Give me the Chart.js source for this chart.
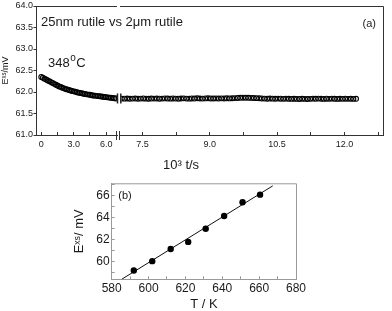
<!DOCTYPE html>
<html><head><meta charset="utf-8">
<script src="https://cdn.jsdelivr.net/npm/chart.js@4.4.1/dist/chart.umd.min.js"></script>
<style>
html,body{margin:0;padding:0;background:#fff;}
#wrap{position:relative;width:392px;height:311px;overflow:hidden;background:#fff;}
canvas{position:absolute;}
</style></head><body>
<div id="wrap">
<canvas id="ca" width="392" height="170" style="left:0;top:0;width:392px;height:170px"></canvas>
<canvas id="cb" width="282" height="170" style="left:110px;top:0;width:282px;height:170px"></canvas>
<canvas id="cc" width="392" height="141" style="left:0;top:170px;width:392px;height:141px"></canvas>
</div>
<script>
// ---- panel (a): early segment (10^3 t/s, mV)
const tEarly = [0,0.15,0.3,0.45,0.6,0.75,0.9,1.05,1.2,1.35,1.5,1.65,1.8,1.95,2.1,2.25,2.4,2.55,2.7,2.85,3.0,3.15,3.3,3.45,3.6,3.75,3.9,4.05,4.2,4.35,4.5,4.65,4.8,4.95,5.1,5.25,5.4,5.55,5.7,5.85,6.0,6.15,6.3,6.45,6.6,6.75,6.9];
const eEarly = [62.35,62.33,62.31,62.29,62.27,62.25,62.23,62.21,62.19,62.17,62.15,62.13,62.115,62.10,62.085,62.07,62.06,62.045,62.035,62.025,62.015,62.005,61.995,61.985,61.975,61.97,61.96,61.955,61.945,61.94,61.935,61.925,61.92,61.915,61.91,61.905,61.90,61.895,61.89,61.885,61.88,61.875,61.87,61.865,61.86,61.855,61.85];
// ---- panel (a): late segment
const tLate = [7.04,7.10,7.16,7.22,7.28,7.34,7.40,7.46,7.52,7.58,7.64,7.70,7.76,7.82,7.88,7.94,8.00,
8.06,8.12,8.18,8.24,8.30,8.36,8.42,8.48,8.54,8.60,8.66,8.72,8.78,8.84,8.90,8.96,9.02,
9.08,9.14,9.20,9.26,9.32,9.38,9.44,9.50,9.56,9.62,9.68,9.74,9.80,9.86,9.92,9.98,
10.04,10.10,10.16,10.22,10.28,10.34,10.40,10.46,10.52,10.58,10.64,10.70,10.76,10.82,10.88,10.94,11.00,
11.06,11.12,11.18,11.24,11.30,11.36,11.42,11.48,11.54,11.60,11.66,11.72,11.78,11.84,11.90,11.96,12.02,
12.08,12.14,12.20,12.26];
const eLate = [61.847,61.845,61.849,61.843,61.846,61.848,61.844,61.847,61.850,61.845,61.843,61.848,61.846,61.849,61.844,61.847,61.851,
61.848,61.845,61.850,61.847,61.844,61.849,61.852,61.847,61.845,61.850,61.848,61.853,61.849,61.847,61.851,61.854,61.850,
61.849,61.851,61.848,61.852,61.850,61.853,61.851,61.855,61.858,61.862,61.865,61.867,61.866,61.865,61.863,61.860,
61.857,61.853,61.850,61.846,61.844,61.848,61.845,61.843,61.847,61.844,61.841,61.845,61.842,61.839,61.843,61.840,61.838,
61.842,61.839,61.837,61.841,61.845,61.842,61.846,61.843,61.840,61.844,61.841,61.845,61.842,61.839,61.843,61.841,61.844,
61.841,61.843,61.840,61.842];
const yTicksA = [61.0,61.5,62.0,62.5,63.0,63.5,64.0];
const xTicksEarly = [0,1.5,3,4.5,6];
const xLabelsEarly = ['0','','3.0','','6.0'];
const xTicksLate = [7.5,8.25,9,9.75,10.5,11.25,12,12.75];
const xLabelsLate = ['7.5','','9.0','','10.5','','12.0',''];
// ---- panel (b)
const tempK = [592,602,612,621.5,631,641,651,660.5];
const eXs = [59.2,60.05,61.15,61.8,63.0,64.15,65.4,66.1];
const fitT = [585.4,667.4];
const fitE = [58.4,66.9];
const xTicksB = [580,590,600,610,620,630,640,650,660,670,680];
const yTicksB = [59,60,61,62,63,64,65,66,67];

const FONT = "'Liberation Sans', Arial, Helvetica, sans-serif";
const AX = '#333';
const TXT = '#1a1a1a';
const BREAK_LEVEL = 61.85;
function pts(xs, ys){ return xs.map((x,i)=>({x:x, y:ys[i]})); }
const ptStyle = {pointStyle:'circle', pointRadius:2.4, borderWidth:1.1, borderColor:'#000', backgroundColor:'rgba(0,0,0,0)', showLine:false};

const annotA = {id:'annotA', afterDraw(c){
  const {ctx, chartArea:a} = c;
  ctx.save();
  ctx.strokeStyle = AX; ctx.lineWidth = 1;
  ctx.beginPath(); ctx.moveTo(a.left, a.top+0.5); ctx.lineTo(a.right, a.top+0.5); ctx.stroke();
  ctx.fillStyle = TXT; ctx.textBaseline = 'alphabetic'; ctx.textAlign = 'left';
  ctx.font = '13px ' + FONT;
  ctx.fillText('25nm rutile vs 2μm rutile', a.left + 4.5, 26);
  let x = a.left + 11.5;
  ctx.fillText('348', x, 66.5); x += ctx.measureText('348').width;
  ctx.font = '10px ' + FONT; ctx.fillText('o', x + 0.5, 60.5); x += ctx.measureText('o').width + 1;
  ctx.font = '13px ' + FONT; ctx.fillText('C', x, 66.5);
  ctx.font = '11px ' + FONT; ctx.fillText('(a)', 362.5, 26.5);
  ctx.font = '13px ' + FONT; ctx.fillText('10³ t/s', 163, 168.5);
  ctx.restore();
}};

const annotB = {id:'annotB', afterDraw(c){
  const {ctx, chartArea:a, scales:{y}} = c;
  ctx.save();
  ctx.strokeStyle = AX; ctx.lineWidth = 1;
  ctx.beginPath(); ctx.moveTo(a.left, a.top+0.5); ctx.lineTo(a.right+0.5, a.top+0.5); ctx.lineTo(a.right+0.5, a.bottom); ctx.stroke();
  for (const dx of [-3.5, -0.5]) {
    ctx.beginPath(); ctx.moveTo(a.left+dx, a.bottom-4); ctx.lineTo(a.left+dx, a.bottom+5); ctx.stroke();
  }
  const yb = y.getPixelForValue(BREAK_LEVEL);
  ctx.lineWidth = 1.5; ctx.strokeStyle = '#222';
  for (const dx of [-2.5, 0.8]) {
    ctx.beginPath(); ctx.moveTo(a.left+dx, yb-5); ctx.lineTo(a.left+dx, yb+5); ctx.stroke();
  }
  ctx.restore();
}};

const annotC = {id:'annotC', afterDraw(c){
  const {ctx, chartArea:a} = c;
  ctx.save();
  ctx.strokeStyle = '#999'; ctx.lineWidth = 1;
  ctx.beginPath(); ctx.moveTo(a.left, a.top+0.5); ctx.lineTo(a.right+0.5, a.top+0.5); ctx.lineTo(a.right+0.5, a.bottom); ctx.stroke();
  ctx.fillStyle = TXT; ctx.font = '11px ' + FONT; ctx.textBaseline = 'alphabetic';
  ctx.fillText('(b)', a.left + 6.6, a.top + 15.5);
  ctx.restore();
}};

const common = {responsive:false, animation:false, events:[], devicePixelRatio:1,
  plugins:{legend:{display:false}, tooltip:{enabled:false}}};

new Chart(document.getElementById('ca'), {
  type:'scatter',
  data:{datasets:[Object.assign({data:pts(tEarly,eEarly)}, ptStyle)]},
  options:Object.assign({}, common, {
    layout:{padding:{left:0, top:6, right:275, bottom:0}},
    scales:{
      x:{type:'linear', min:-0.44, max:7.0,
        afterBuildTicks:s=>{s.ticks = xTicksEarly.map(v=>({value:v}));},
        afterFit:s=>{s.height = 35;},
        ticks:{callback:(v,i)=>xLabelsEarly[i], font:{family:FONT,size:9}, color:TXT, padding:7.5, maxRotation:0, autoSkip:false},
        grid:{drawOnChartArea:false, tickLength:-3, color:AX},
        border:{color:AX, width:1}},
      y:{type:'linear', min:61, max:64,
        afterBuildTicks:s=>{s.ticks = yTicksA.map(v=>({value:v}));},
        afterFit:s=>{s.width = 36.5;},
        ticks:{callback:v=>Number(v).toFixed(1), font:{family:FONT,size:9}, color:TXT, padding:0.5, autoSkip:false},
        grid:{drawOnChartArea:false, tickLength:3, color:AX},
        border:{color:AX, width:1},
        title:{display:true, text:'Eˣˢ/mV', font:{family:FONT,size:9}, color:TXT, padding:{top:0.6,bottom:0}}}
    }
  }),
  plugins:[annotA]
});

new Chart(document.getElementById('cb'), {
  type:'scatter',
  data:{datasets:[Object.assign({data:pts(tLate,eLate)}, ptStyle)]},
  options:Object.assign({}, common, {
    layout:{padding:{left:10, top:6, right:9, bottom:0}},
    scales:{
      x:{type:'linear', min:7.0, max:12.86,
        afterBuildTicks:s=>{s.ticks = xTicksLate.map(v=>({value:v}));},
        afterFit:s=>{s.height = 35;},
        ticks:{callback:(v,i)=>xLabelsLate[i], font:{family:FONT,size:9}, color:TXT, padding:7.5, maxRotation:0, autoSkip:false},
        grid:{drawOnChartArea:false, tickLength:-3, color:AX},
        border:{color:AX, width:1}},
      y:{type:'linear', display:false, min:61, max:64}
    }
  }),
  plugins:[annotB]
});

new Chart(document.getElementById('cc'), {
  type:'scatter',
  data:{datasets:[
    {data:pts(tempK,eXs), pointStyle:'circle', pointRadius:3.2, borderWidth:0, backgroundColor:'#000', borderColor:'#000', showLine:false},
    {data:pts(fitT,fitE), showLine:true, pointRadius:0, borderColor:'#111', borderWidth:1, fill:false}
  ]},
  options:Object.assign({}, common, {
    layout:{padding:{left:0, top:13.3, right:96, bottom:0}},
    scales:{
      x:{type:'linear', min:580, max:680,
        afterBuildTicks:s=>{s.ticks = xTicksB.map(v=>({value:v}));},
        afterFit:s=>{s.height = 31.7;},
        ticks:{callback:v=>(v%20===0?String(v):''), font:{family:FONT,size:12}, color:TXT, padding:5, maxRotation:0, autoSkip:false},
        grid:{drawOnChartArea:false, tickLength:-3, color:'#999'},
        border:{color:'#999', width:1},
        title:{display:true, text:'T / K', font:{family:FONT,size:13, lineHeight:1}, color:TXT, padding:{top:0,bottom:0}}},
      y:{type:'linear', min:58.4, max:67.13,
        afterBuildTicks:s=>{s.ticks = yTicksB.map(v=>({value:v}));},
        afterFit:s=>{s.width = 111.7;},
        ticks:{callback:v=>(v%2===0?String(v):''), font:{family:FONT,size:12}, color:TXT, padding:5, autoSkip:false},
        grid:{drawOnChartArea:false, tickLength:-3, color:'#999'},
        border:{color:'#999', width:1},
        title:{display:true, text:'Eˣˢ/ mV', font:{family:FONT,size:13}, color:TXT, padding:{top:72,bottom:0}}}
    }
  }),
  plugins:[annotC]
});
</script>
</body></html>
